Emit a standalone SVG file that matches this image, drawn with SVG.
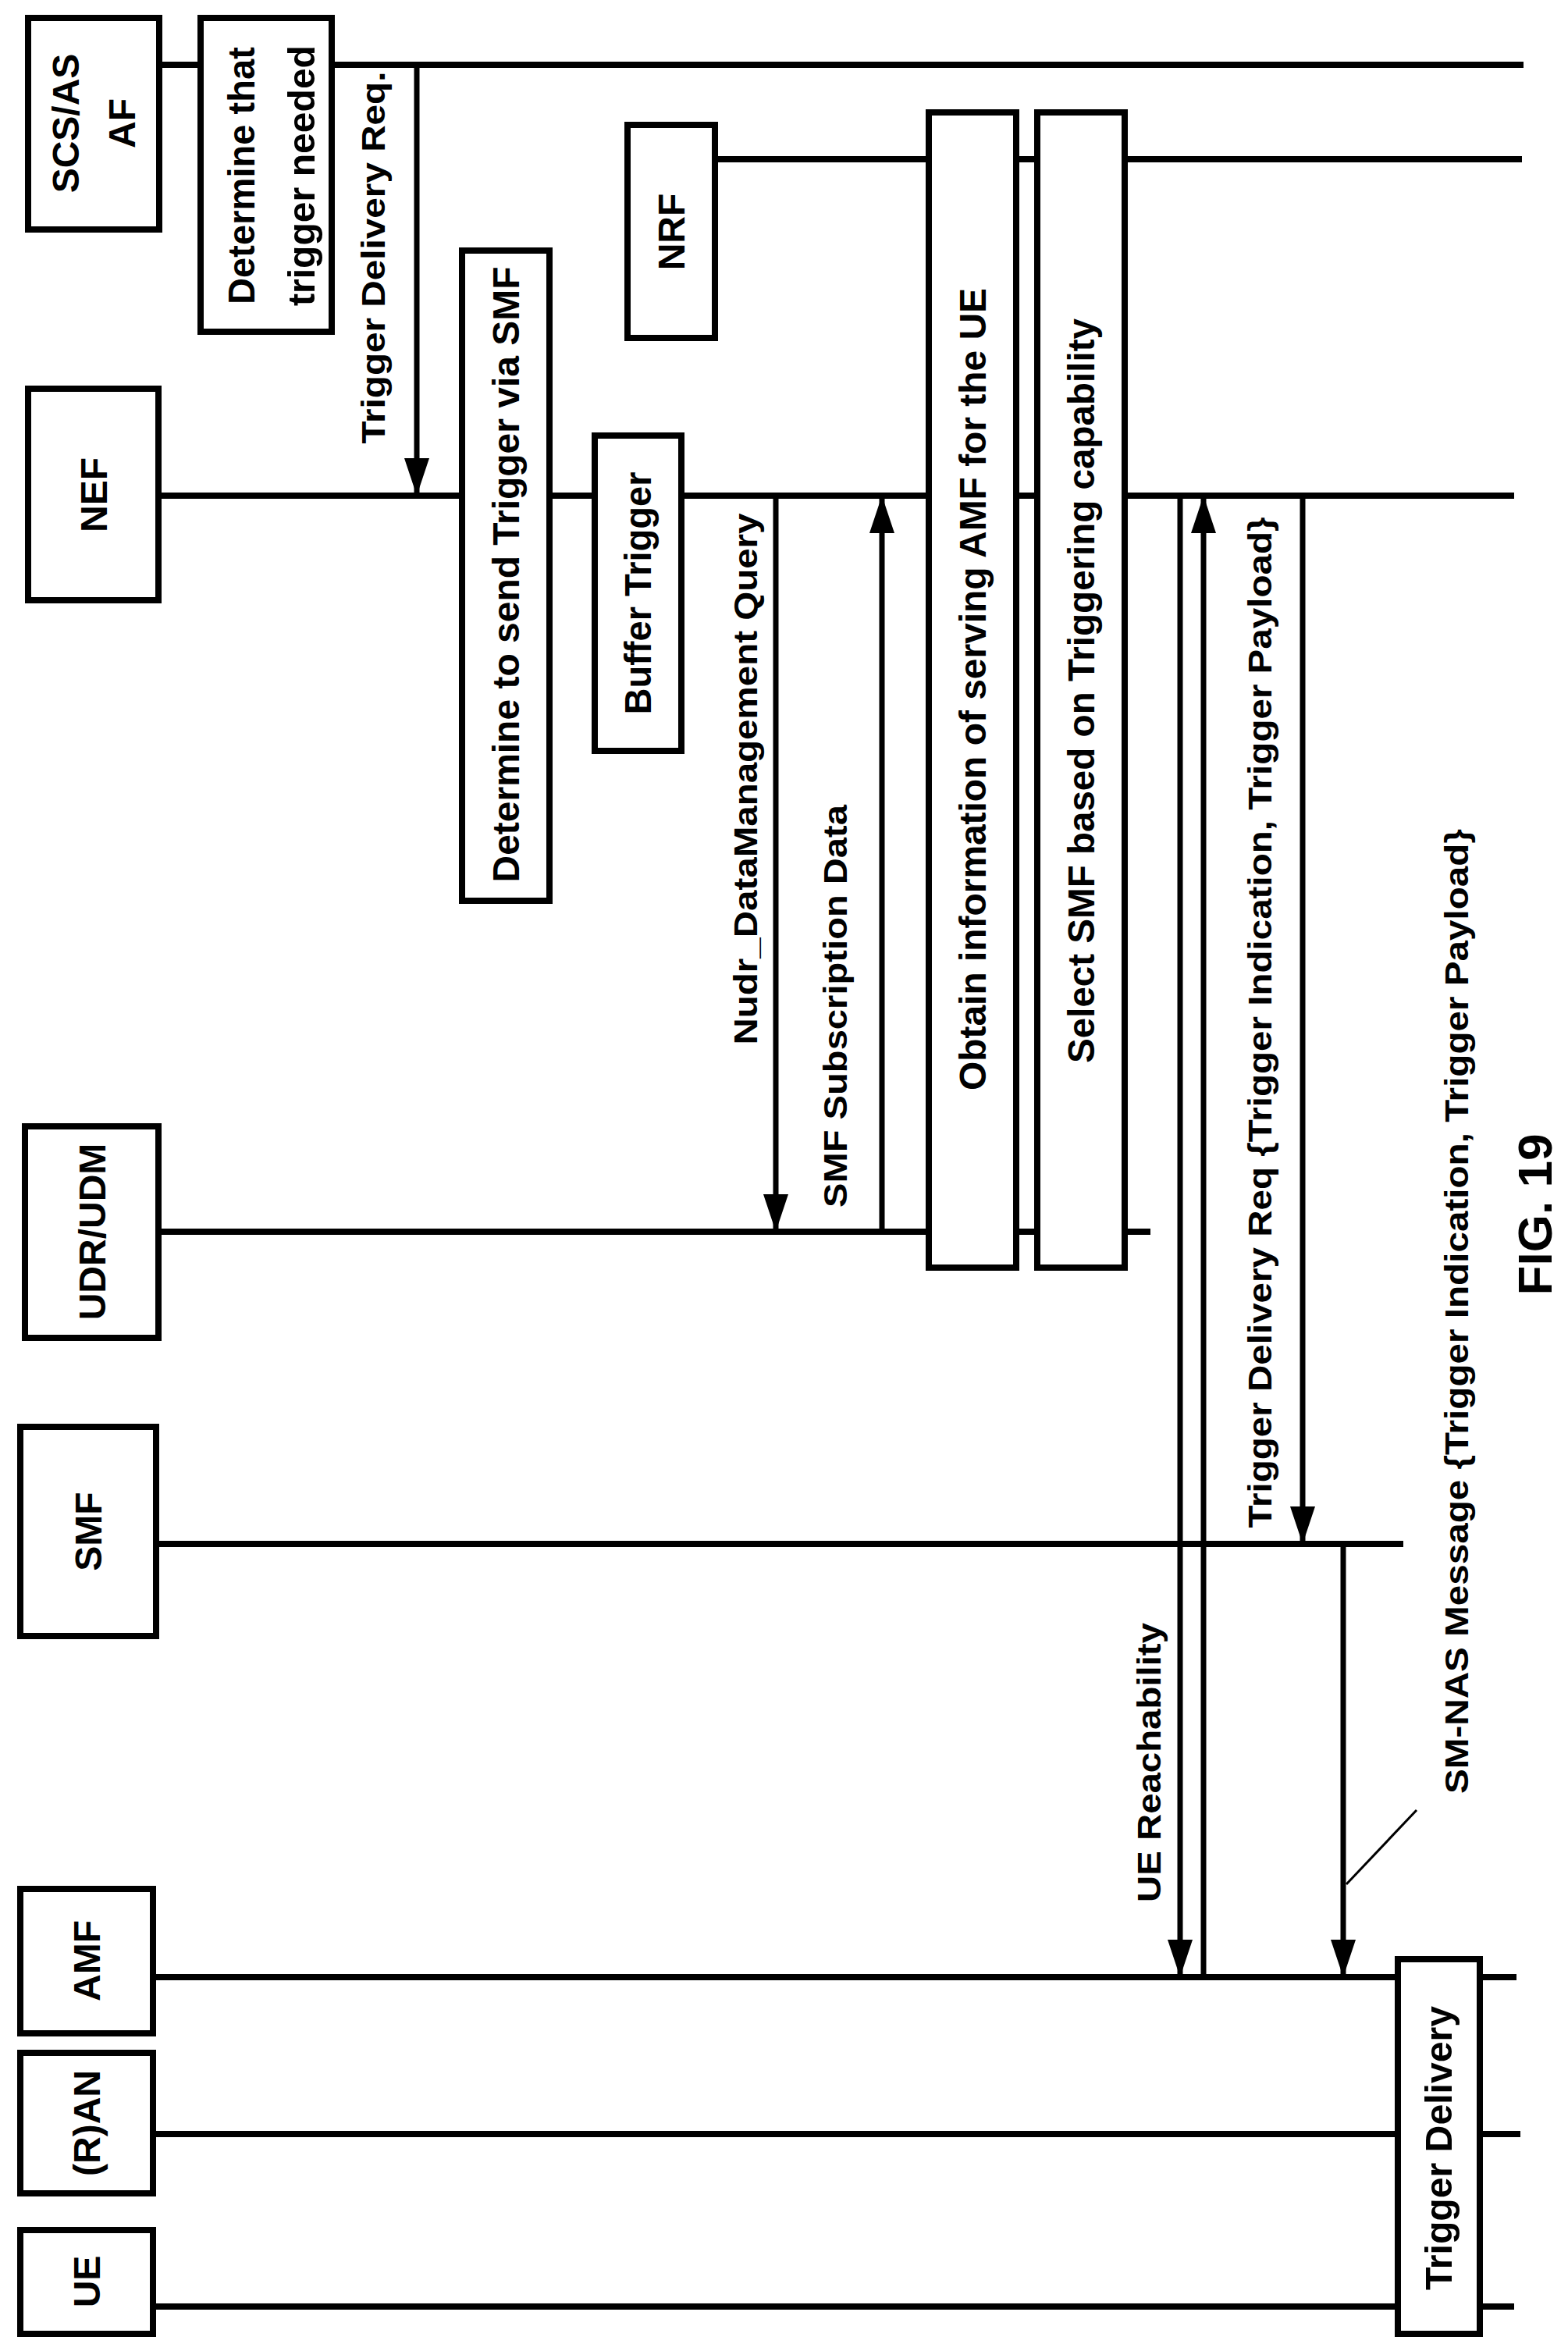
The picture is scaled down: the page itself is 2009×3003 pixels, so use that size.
<svg xmlns="http://www.w3.org/2000/svg" width="2009" height="3003" viewBox="0 0 2009 3003">
<style>
.life{stroke:#000;stroke-width:8;fill:none}
.box{fill:#fff;stroke:#000;stroke-width:8}
.msg{stroke:#000;stroke-width:7;fill:none}
text{font-family:"Liberation Sans",Arial,sans-serif;font-weight:bold;fill:#000;text-anchor:middle;dominant-baseline:central}
.bt{font-size:48px}
.lt{font-size:42px}
</style>
<defs>
<marker id="ah" markerUnits="userSpaceOnUse" markerWidth="48" markerHeight="32" refX="48" refY="16" viewBox="0 0 48 32" orient="auto"><path d="M0,0 L48,16 L0,32 Z" fill="#000"/></marker>
</defs>
<g id="lifelines">
<line class="life" x1="204" y1="83" x2="1952" y2="83"/>
<line class="life" x1="916" y1="204" x2="1950" y2="204"/>
<line class="life" x1="203" y1="635" x2="1940" y2="635"/>
<line class="life" x1="203" y1="1578" x2="1474" y2="1578"/>
<line class="life" x1="200" y1="1978" x2="1798" y2="1978"/>
<line class="life" x1="196" y1="2533" x2="1943" y2="2533"/>
<line class="life" x1="196" y1="2734" x2="1948" y2="2734"/>
<line class="life" x1="196" y1="2955" x2="1940" y2="2955"/>
</g>
<g id="connectors">
<line class="msg" x1="534" y1="83" x2="534" y2="635" marker-end="url(#ah)"/>
<line class="msg" x1="994" y1="635" x2="994" y2="1578" marker-end="url(#ah)"/>
<line class="msg" x1="1130" y1="1578" x2="1130" y2="635" marker-end="url(#ah)"/>
<line class="msg" x1="1512" y1="635" x2="1512" y2="2533" marker-end="url(#ah)"/>
<line class="msg" x1="1542" y1="2533" x2="1542" y2="635" marker-end="url(#ah)"/>
<line class="msg" x1="1669" y1="635" x2="1669" y2="1978" marker-end="url(#ah)"/>
<line class="msg" x1="1721" y1="1978" x2="1721" y2="2533" marker-end="url(#ah)"/>
<line x1="1725" y1="2414" x2="1815" y2="2319" stroke="#000" stroke-width="3"/>
<text class="lt" transform="translate(478,330) rotate(-90)" textLength="477" lengthAdjust="spacingAndGlyphs">Trigger Delivery Req.</text>
<text class="lt" transform="translate(955,998) rotate(-90)" textLength="681" lengthAdjust="spacingAndGlyphs">Nudr_DataManagement Query</text>
<text class="lt" transform="translate(1070,1289) rotate(-90)" textLength="516" lengthAdjust="spacingAndGlyphs">SMF Subscription Data</text>
<text class="lt" transform="translate(1472,2258) rotate(-90)" textLength="358" lengthAdjust="spacingAndGlyphs">UE Reachability</text>
<text class="lt" transform="translate(1614,1310) rotate(-90)" textLength="1295" lengthAdjust="spacingAndGlyphs">Trigger Delivery Req {Trigger Indication, Trigger Payload}</text>
<text class="lt" transform="translate(1866,1680) rotate(-90)" textLength="1236" lengthAdjust="spacingAndGlyphs">SM-NAS Message {Trigger Indication, Trigger Payload}</text>
</g>
<g id="scs"><rect class="box" x="36" y="23" width="168" height="271"/>
<text class="bt" transform="translate(84,158) rotate(-90)">SCS/AS</text>
<text class="bt" transform="translate(156,158) rotate(-90)">AF</text></g>
<g id="nef"><rect class="box" x="36" y="498" width="167" height="271"/><text class="bt" transform="translate(120,634) rotate(-90)">NEF</text></g>
<g id="nrf"><rect class="box" x="804" y="160" width="112" height="273"/><text class="bt" transform="translate(860,297) rotate(-90)">NRF</text></g>
<g id="udr"><rect class="box" x="32" y="1443" width="171" height="271"/><text class="bt" transform="translate(118,1578) rotate(-90)">UDR/UDM</text></g>
<g id="smf"><rect class="box" x="26" y="1828" width="174" height="268"/><text class="bt" transform="translate(113,1962) rotate(-90)">SMF</text></g>
<g id="amf"><rect class="box" x="26" y="2420" width="170" height="185"/><text class="bt" transform="translate(111,2512) rotate(-90)">AMF</text></g>
<g id="ran"><rect class="box" x="26" y="2630" width="170" height="180"/><text class="bt" transform="translate(111,2720) rotate(-90)">(R)AN</text></g>
<g id="ue"><rect class="box" x="26" y="2857" width="170" height="133"/><text class="bt" transform="translate(111,2923) rotate(-90)">UE</text></g>
<g id="determine-needed"><rect class="box" x="257" y="23" width="168" height="402"/>
<text class="bt" transform="translate(309,225) rotate(-90)" textLength="330" lengthAdjust="spacingAndGlyphs">Determine that</text>
<text class="bt" transform="translate(386,225) rotate(-90)" textLength="334" lengthAdjust="spacingAndGlyphs">trigger needed</text></g>
<g id="determine-send"><rect class="box" x="592" y="321" width="112" height="833"/><text class="bt" transform="translate(648,736) rotate(-90)" textLength="789" lengthAdjust="spacingAndGlyphs">Determine to send Trigger via SMF</text></g>
<g id="buffer"><rect class="box" x="762" y="558" width="111" height="404"/><text class="bt" transform="translate(817,760) rotate(-90)" textLength="311" lengthAdjust="spacingAndGlyphs">Buffer Trigger</text></g>
<g id="obtain"><rect class="box" x="1190" y="144" width="112" height="1480"/><text class="bt" transform="translate(1246,883) rotate(-90)" textLength="1028" lengthAdjust="spacingAndGlyphs">Obtain information of serving AMF for the UE</text></g>
<g id="select"><rect class="box" x="1329" y="144" width="112" height="1480"/><text class="bt" transform="translate(1385,885) rotate(-90)" textLength="954" lengthAdjust="spacingAndGlyphs">Select SMF based on Triggering capability</text></g>
<g id="trigger-delivery"><rect class="box" x="1791" y="2510" width="105" height="480"/><text class="bt" transform="translate(1843,2752) rotate(-90)" textLength="364" lengthAdjust="spacingAndGlyphs">Trigger Delivery</text></g>
<text transform="translate(1966,1556) rotate(-90)" font-size="62">FIG. 19</text>
</svg>
